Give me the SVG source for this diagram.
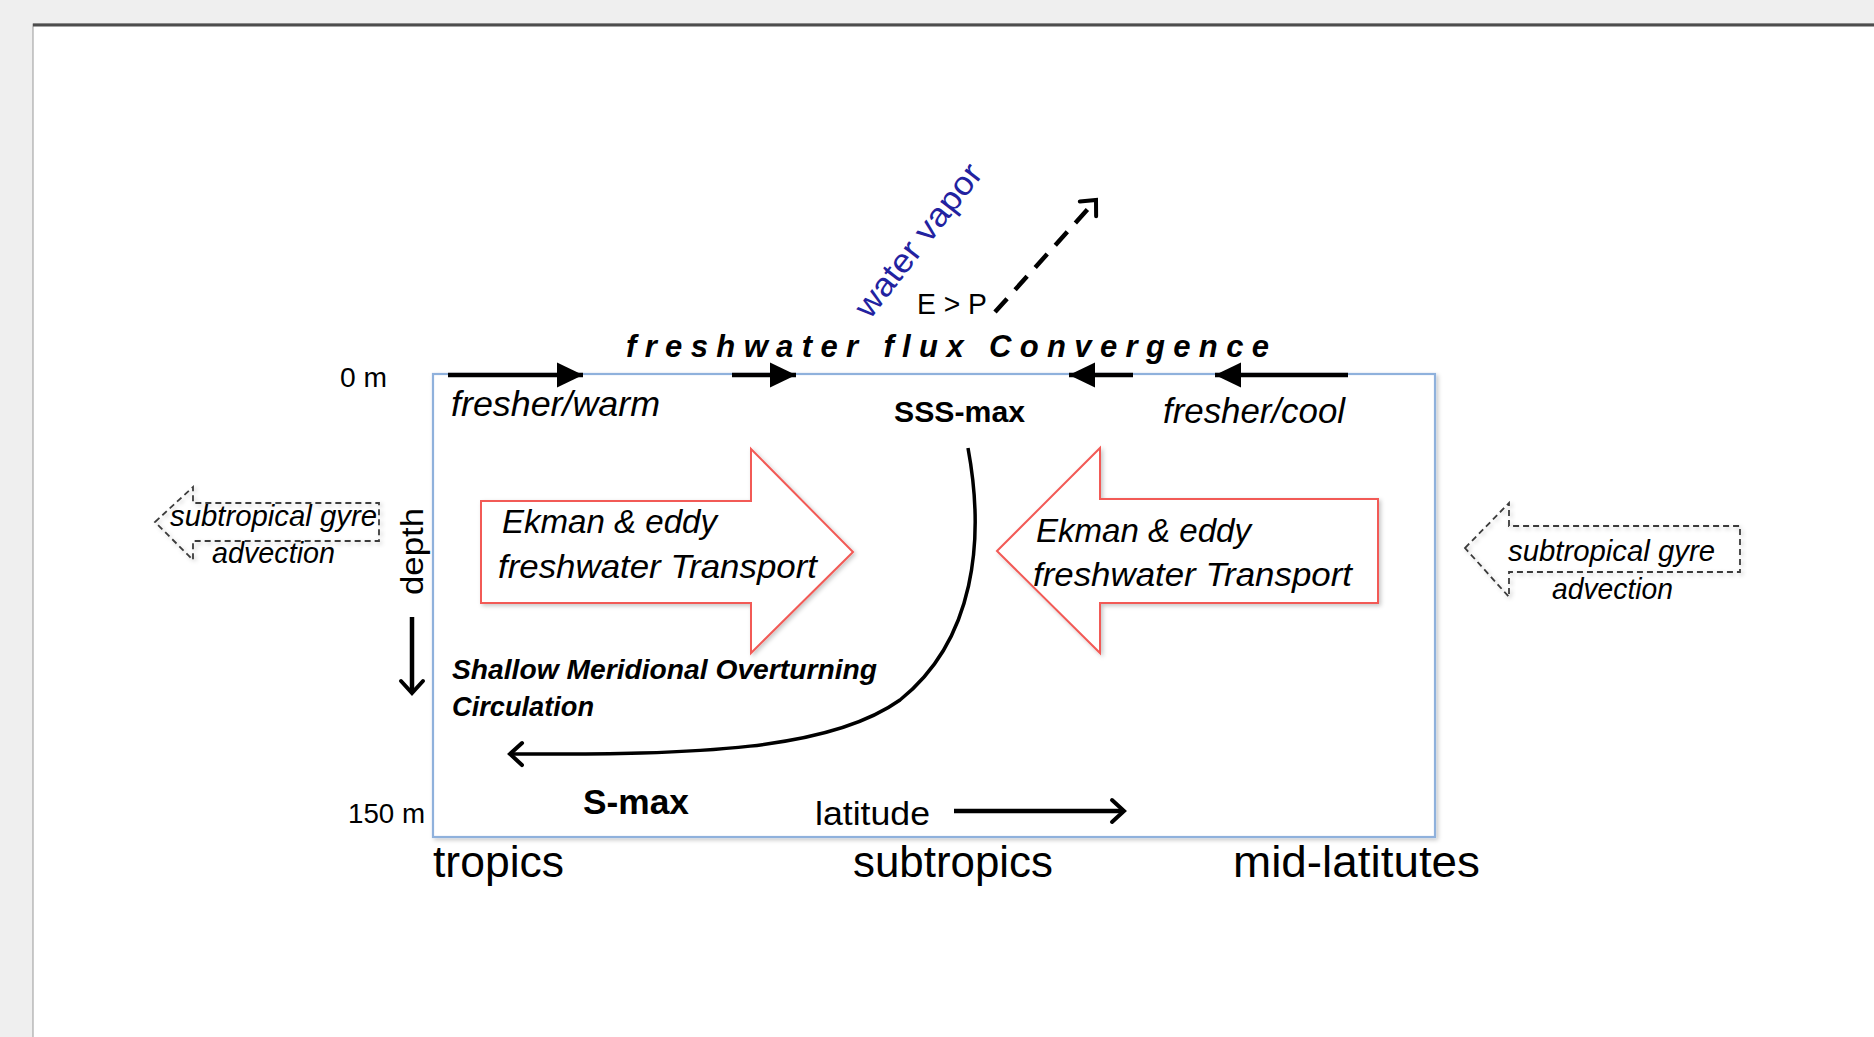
<svg xmlns="http://www.w3.org/2000/svg" width="1874" height="1037" viewBox="0 0 1874 1037">
<style>
  text { font-family: "Liberation Sans", Arial, sans-serif; fill: #000; }
  .it { font-style: italic; }
  .b { font-weight: bold; }
  .red { fill: #fff; stroke: #f25a56; stroke-width: 2; }
  .dash { fill: none; stroke: #3a3a3a; stroke-width: 1.8; stroke-dasharray: 6 4; }
  .arr { fill: none; stroke: #000; stroke-width: 4.5; }
  .thin { fill: none; stroke: #000; stroke-width: 3.5; }
  .blue { fill: #2222a0; }
</style>
<defs>
  <marker id="tri" markerUnits="userSpaceOnUse" markerWidth="30" markerHeight="30" refX="26" refY="12.5" orient="auto" overflow="visible">
    <path d="M0,0 L26,12.5 L0,25 Z" fill="#000"/>
  </marker>
  <marker id="vee" markerUnits="userSpaceOnUse" markerWidth="30" markerHeight="30" refX="20" refY="12" orient="auto" overflow="visible">
    <path d="M8,1 L20,12 L8,23" fill="none" stroke="#000" stroke-width="4" stroke-linecap="round" stroke-linejoin="miter"/>
  </marker>
  <filter id="sh" x="-10%" y="-10%" width="130%" height="130%">
    <feDropShadow dx="2" dy="2" stdDeviation="2" flood-color="#000" flood-opacity="0.22"/>
  </filter>
</defs>

<!-- page -->
<rect x="0" y="0" width="1874" height="1037" fill="#efefef"/>
<rect x="33" y="24" width="1850" height="1020" fill="#fff" stroke="#9a9a9a" stroke-width="1"/>
<line x1="33" y1="25" x2="1874" y2="25" stroke="#4d4d4d" stroke-width="3"/>

<!-- main box -->
<g id="ocean-box">
  <rect x="433" y="374" width="1002" height="463" fill="#fff" stroke="#8fb1dc" stroke-width="2.2" filter="url(#sh)"/>
</g>

<!-- nodes -->
<g id="ekman-left">
  <polygon class="red" filter="url(#sh)" points="481,501 751,501 751,449 853,552 751,653 751,603 481,603"/>
  <text class="it" x="502" y="533" font-size="34" textLength="215" lengthAdjust="spacingAndGlyphs">Ekman &amp; eddy</text>
  <text class="it" x="498" y="578" font-size="34" textLength="319" lengthAdjust="spacingAndGlyphs">freshwater Transport</text>
</g>
<g id="ekman-right">
  <polygon class="red" filter="url(#sh)" points="997,551 1100,448 1100,499 1378,499 1378,603 1100,603 1100,653"/>
  <text class="it" x="1036" y="542" font-size="34" textLength="215" lengthAdjust="spacingAndGlyphs">Ekman &amp; eddy</text>
  <text class="it" x="1033" y="586" font-size="34" textLength="319" lengthAdjust="spacingAndGlyphs">freshwater Transport</text>
</g>
<g id="gyre-left">
  <polygon class="dash" filter="url(#sh)" points="155,522 193,487 193,503 379,503 379,541 193,541 193,560"/>
  <text class="it" x="170" y="526" font-size="29" textLength="207" lengthAdjust="spacingAndGlyphs">subtropical gyre</text>
  <text class="it" x="212" y="563" font-size="29" textLength="123" lengthAdjust="spacingAndGlyphs">advection</text>
</g>
<g id="gyre-right">
  <polygon class="dash" filter="url(#sh)" points="1465,548 1509,503 1509,526 1740,526 1740,572 1509,572 1509,597"/>
  <text class="it" x="1508" y="561" font-size="29" textLength="207" lengthAdjust="spacingAndGlyphs">subtropical gyre</text>
  <text class="it" x="1552" y="599" font-size="29" textLength="121" lengthAdjust="spacingAndGlyphs">advection</text>
</g>

<g id="labels">
  <text x="340" y="387" font-size="27" textLength="47" lengthAdjust="spacingAndGlyphs">0 m</text>
  <text x="348" y="823" font-size="27" textLength="77" lengthAdjust="spacingAndGlyphs">150 m</text>
  <text class="it" x="451" y="416" font-size="35" textLength="209" lengthAdjust="spacingAndGlyphs">fresher/warm</text>
  <text class="it" x="1163" y="423" font-size="35" textLength="182" lengthAdjust="spacingAndGlyphs">fresher/cool</text>
  <text class="b" x="894" y="422" font-size="30" textLength="131" lengthAdjust="spacingAndGlyphs">SSS-max</text>
  <text class="b it" x="626" y="357" font-size="31" textLength="643" lengthAdjust="spacing">freshwater flux Convergence</text>
  <text x="917" y="314" font-size="30" textLength="70" lengthAdjust="spacingAndGlyphs">E &gt; P</text>
  <text class="blue" transform="translate(870,320) rotate(-52)" font-size="33" textLength="185" lengthAdjust="spacingAndGlyphs">water vapor</text>
  <text transform="translate(423,595) rotate(-90)" font-size="32" textLength="87" lengthAdjust="spacingAndGlyphs">depth</text>
  <text class="b it" x="452" y="679" font-size="28" textLength="425" lengthAdjust="spacingAndGlyphs">Shallow Meridional Overturning</text>
  <text class="b it" x="452" y="716" font-size="28" textLength="142" lengthAdjust="spacingAndGlyphs">Circulation</text>
  <text class="b" x="583" y="814" font-size="35" textLength="106" lengthAdjust="spacingAndGlyphs">S-max</text>
  <text x="815" y="825" font-size="34" textLength="115" lengthAdjust="spacingAndGlyphs">latitude</text>
  <text x="433" y="877" font-size="44" textLength="131" lengthAdjust="spacingAndGlyphs">tropics</text>
  <text x="853" y="877" font-size="44" textLength="200" lengthAdjust="spacingAndGlyphs">subtropics</text>
  <text x="1233" y="877" font-size="44" textLength="247" lengthAdjust="spacingAndGlyphs">mid-latitutes</text>
</g>

<!-- connectors -->
<g id="connectors">
  <line class="arr" x1="448" y1="375" x2="583" y2="375" marker-end="url(#tri)"/>
  <line class="arr" x1="732" y1="375" x2="796" y2="375" marker-end="url(#tri)"/>
  <line class="arr" x1="1133" y1="375" x2="1069" y2="375" marker-end="url(#tri)"/>
  <line class="arr" x1="1348" y1="375" x2="1215" y2="375" marker-end="url(#tri)"/>
  <line x1="995" y1="312" x2="1096" y2="200" fill="none" stroke="#000" stroke-width="4.5" stroke-dasharray="18 12" marker-end="url(#vee)"/>
  <path class="thin" d="M968,448 C985,540 975,640 900,700 C830,750 700,755 510,754" marker-end="url(#vee)"/>
  <line class="arr" x1="412" y1="617" x2="412" y2="693" marker-end="url(#vee)"/>
  <line class="arr" x1="954" y1="811" x2="1124" y2="811" marker-end="url(#vee)"/>
</g>
</svg>
